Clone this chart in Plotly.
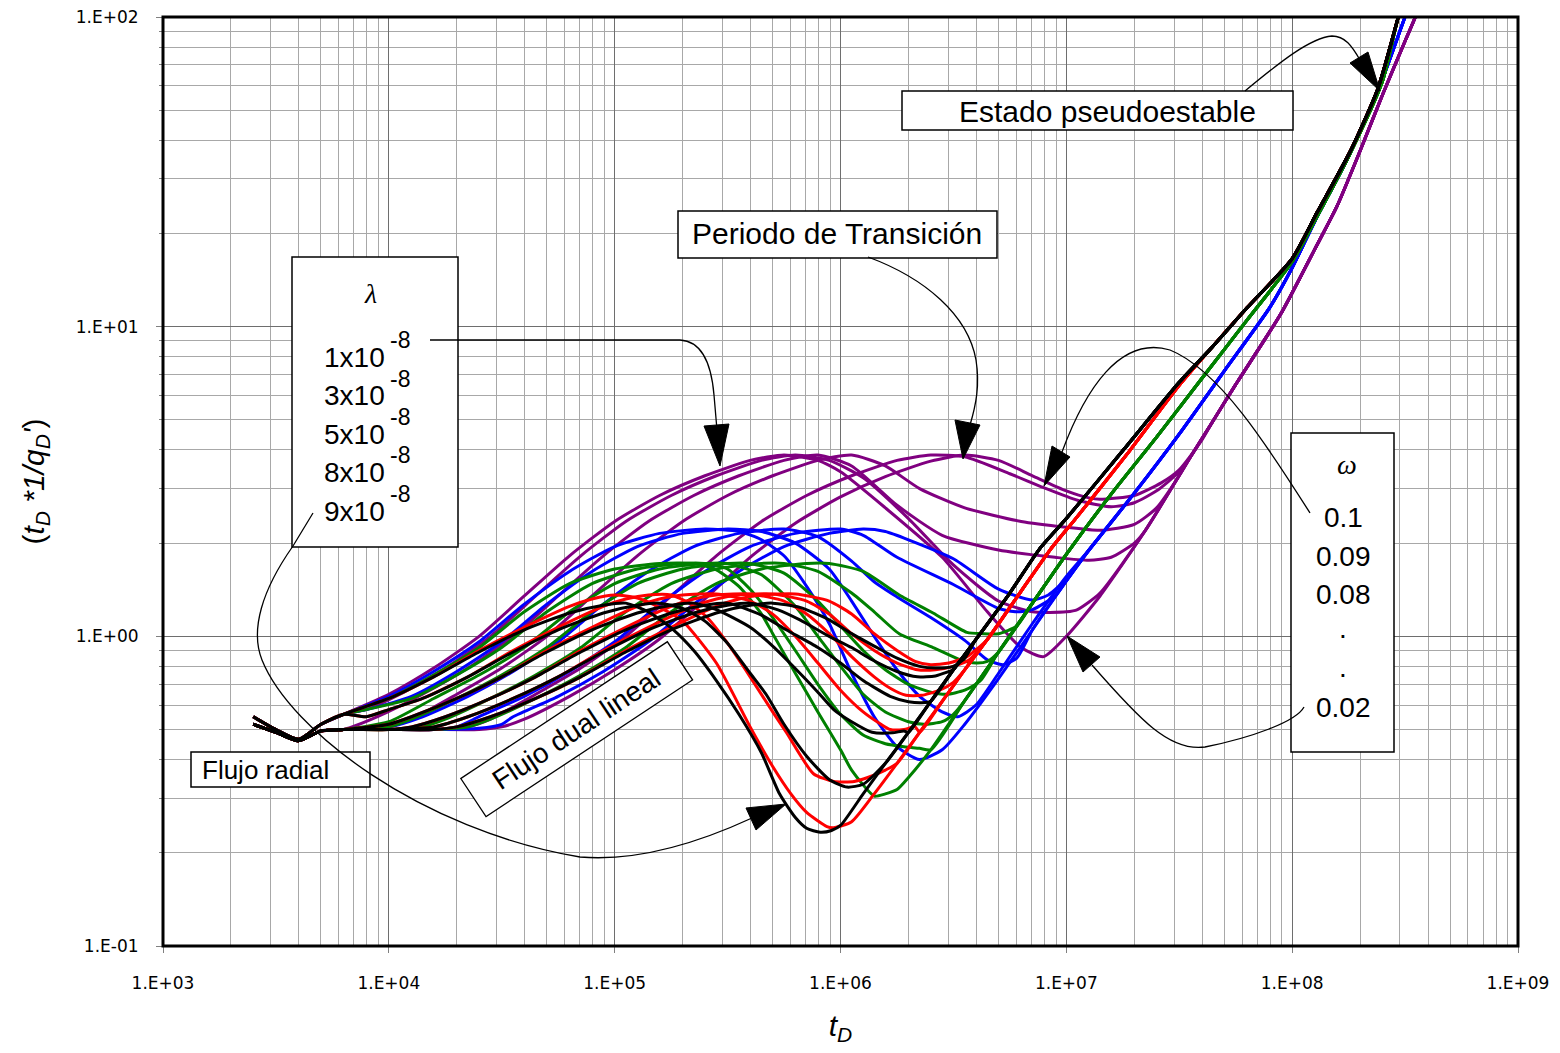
import plotly.graph_objects as go

# ---------------- axis ticks ----------------
x_tick_vals = [1e3, 1e4, 1e5, 1e6, 1e7, 1e8, 1e9]
x_tick_text = ["1.E+03", "1.E+04", "1.E+05", "1.E+06", "1.E+07", "1.E+08", "1.E+09"]
y_tick_vals = [0.1, 1, 10, 100]
y_tick_text = ["1.E-01", "1.E+00", "1.E+01", "1.E+02"]

# ---------------- shared radial-flow start ----------------
t_radial = [2.51e3, 3.16e3, 3.98e3, 5.01e3, 6.31e3]
v_radial_early = [0.55, 0.50, 0.465, 0.52, 0.56]
v_radial_late = [0.52, 0.49, 0.46, 0.495, 0.50]

# ---------------- PURPLE ----------------
purple_tail_t = [1.41e7, 2.24e7, 3.55e7, 4.47e7, 5.62e7, 8.91e7, 1.26e8, 1.58e8, 2.0e8, 2.51e8, 3.16e8, 3.55e8, 3.98e8]
purple_tail_v = [1.35, 2.2, 3.8, 4.97, 6.5, 11.0, 17.8, 24.5, 37, 56, 83.5, 102, 130]
purple_1_t = [1.0e4, 1.58e4, 2.51e4, 3.98e4, 6.31e4, 1.0e5, 1.58e5, 2.51e5, 3.98e5, 5.62e5, 7.94e5, 1.0e6, 1.58e6, 2.82e6, 4.47e6, 6.31e6, 7.94e6, 1.0e7]
purple_1_v = [0.65, 0.79, 1.0, 1.35, 1.82, 2.35, 2.85, 3.3, 3.7, 3.85, 3.7, 3.4, 2.6, 1.8, 1.2, 0.92, 0.86, 1.0]
purple_2_t = [7.94e3, 1.12e4, 1.78e4, 2.82e4, 4.47e4, 7.08e4, 1.12e5, 1.78e5, 2.82e5, 4.47e5, 6.31e5, 8.91e5, 1.26e6, 2.0e6, 3.16e6, 5.01e6, 7.08e6, 1.0e7, 1.12e7, 1.41e7]
purple_2_v = [0.58, 0.65, 0.79, 1.0, 1.35, 1.82, 2.35, 2.85, 3.3, 3.7, 3.85, 3.7, 3.25, 2.4, 1.7, 1.3, 1.2, 1.2, 1.22, 1.38]
purple_3_t = [8.91e3, 1.41e4, 2.24e4, 3.55e4, 5.62e4, 8.91e4, 1.41e5, 2.24e5, 3.55e5, 5.62e5, 7.94e5, 1.12e6, 1.78e6, 2.82e6, 5.01e6, 8.91e6, 1.26e7, 1.58e7, 2.0e7]
purple_3_v = [0.55, 0.65, 0.79, 1.0, 1.35, 1.82, 2.35, 2.85, 3.3, 3.7, 3.85, 3.55, 2.65, 2.12, 1.9, 1.8, 1.76, 1.8, 2.0]
purple_4_t = [1.0e4, 1.26e4, 2.0e4, 3.16e4, 5.01e4, 7.94e4, 1.26e5, 2.0e5, 3.16e5, 5.01e5, 7.94e5, 1.12e6, 1.58e6, 2.24e6, 3.55e6, 6.31e6, 1.0e7, 1.41e7, 2.0e7, 2.51e7, 3.16e7]
purple_4_v = [0.51, 0.54, 0.65, 0.79, 1.0, 1.35, 1.82, 2.35, 2.85, 3.3, 3.7, 3.85, 3.55, 3.0, 2.6, 2.35, 2.25, 2.2, 2.3, 2.6, 3.3]
purple_5_t = [1.0e4, 1.58e4, 2.24e4, 2.82e4, 4.47e4, 7.08e4, 1.12e5, 1.78e5, 2.82e5, 4.47e5, 7.08e5, 1.12e6, 1.78e6, 2.51e6, 3.55e6, 5.62e6, 7.94e6, 1.12e7, 1.58e7, 2.0e7, 2.51e7, 3.16e7]
purple_5_v = [0.5, 0.5, 0.51, 0.54, 0.65, 0.79, 1.0, 1.35, 1.82, 2.35, 2.85, 3.3, 3.7, 3.85, 3.8, 3.35, 3.02, 2.75, 2.62, 2.7, 2.95, 3.4]
purple_6_t = [1.0e4, 1.58e4, 2.51e4, 3.16e4, 3.98e4, 6.31e4, 1.0e5, 1.58e5, 2.51e5, 3.98e5, 6.31e5, 1.0e6, 1.58e6, 2.51e6, 3.55e6, 5.01e6, 7.08e6, 1.0e7, 1.26e7, 1.41e7, 2.0e7, 2.63e7, 3.16e7, 3.98e7]
purple_6_v = [0.5, 0.5, 0.5, 0.51, 0.54, 0.64, 0.78, 0.98, 1.32, 1.8, 2.32, 2.82, 3.28, 3.68, 3.85, 3.7, 3.3, 2.95, 2.8, 2.77, 2.85, 3.13, 3.45, 4.3]

# ---------------- BLUE ----------------
blue_tail_t = [3.55e6, 5.01e6, 7.08e6, 1.0e7, 1.26e7, 2.0e7, 3.16e7, 5.01e7, 7.94e7, 1.0e8, 1.26e8, 1.78e8, 2.51e8, 3.16e8, 3.55e8]
blue_tail_v = [0.52, 0.73, 1.05, 1.51, 1.9, 2.9, 4.5, 7.2, 11.5, 15.5, 21.9, 35.5, 63, 100, 125]
blue_1_t = [1.0e4, 1.58e4, 2.51e4, 3.98e4, 6.31e4, 1.0e5, 1.58e5, 2.51e5, 3.55e5, 4.47e5, 5.62e5, 7.08e5, 8.91e5, 1.12e6, 1.41e6, 1.78e6, 2.24e6, 2.82e6]
blue_1_v = [0.64, 0.77, 0.96, 1.27, 1.62, 1.95, 2.15, 2.22, 2.18, 2.05, 1.82, 1.45, 1.1, 0.76, 0.55, 0.44, 0.40, 0.43]
blue_2_t = [7.94e3, 1.26e4, 2.0e4, 3.16e4, 5.01e4, 7.94e4, 1.26e5, 2.0e5, 3.16e5, 4.47e5, 6.31e5, 8.91e5, 1.12e6, 1.41e6, 1.78e6, 2.24e6, 2.82e6, 3.31e6, 3.98e6, 5.01e6, 7.08e6, 1.0e7]
blue_2_v = [0.58, 0.64, 0.77, 0.96, 1.27, 1.62, 1.95, 2.15, 2.22, 2.18, 2.0, 1.65, 1.3, 1.0, 0.78, 0.64, 0.57, 0.55, 0.6, 0.76, 1.1, 1.56]
blue_3_t = [1.0e4, 1.41e4, 2.24e4, 3.55e4, 5.62e4, 8.91e4, 1.41e5, 2.24e5, 3.55e5, 5.62e5, 7.94e5, 1.12e6, 1.41e6, 1.78e6, 2.51e6, 3.55e6, 4.47e6, 5.25e6, 6.03e6]
blue_3_v = [0.51, 0.55, 0.64, 0.77, 0.96, 1.27, 1.62, 1.95, 2.15, 2.22, 2.1, 1.75, 1.5, 1.34, 1.15, 0.97, 0.84, 0.81, 0.85]
blue_4_t = [1.0e4, 1.58e4, 2.0e4, 2.51e4, 3.98e4, 6.31e4, 1.0e5, 1.58e5, 2.51e5, 3.98e5, 6.31e5, 1.0e6, 1.26e6, 1.78e6, 3.16e6, 5.01e6, 6.03e6, 7.08e6, 8.91e6]
blue_4_v = [0.5, 0.5, 0.51, 0.55, 0.64, 0.77, 0.96, 1.27, 1.62, 1.95, 2.15, 2.22, 2.12, 1.8, 1.47, 1.23, 1.2, 1.22, 1.35]
blue_5_t = [1.0e4, 1.58e4, 2.51e4, 3.16e4, 3.55e4, 5.62e4, 8.91e4, 1.41e5, 2.24e5, 3.55e5, 5.62e5, 8.91e5, 1.26e6, 1.58e6, 2.0e6, 3.16e6, 5.01e6, 7.08e6, 8.32e6, 1.0e7]
blue_5_v = [0.5, 0.5, 0.505, 0.52, 0.55, 0.64, 0.77, 0.96, 1.27, 1.62, 1.95, 2.15, 2.22, 2.18, 2.05, 1.78, 1.42, 1.31, 1.36, 1.53]

# ---------------- GREEN ----------------
green_tail_t = [1.78e6, 2.0e6, 2.51e6, 3.55e6, 5.01e6, 7.08e6, 1.0e7, 1.58e7, 2.51e7, 3.98e7, 6.31e7, 1.0e8, 1.26e8, 1.78e8, 2.51e8, 2.95e8, 3.31e8]
green_tail_v = [0.32, 0.35, 0.43, 0.62, 0.89, 1.28, 1.84, 2.88, 4.4, 6.8, 10.5, 16.2, 22, 35.5, 62, 100, 125]
green_1_t = [1.0e4, 1.58e4, 2.51e4, 3.98e4, 6.31e4, 1.0e5, 1.58e5, 2.24e5, 2.82e5, 3.55e5, 4.47e5, 5.01e5, 6.31e5, 7.94e5, 1.0e6, 1.12e6, 1.41e6, 1.58e6]
green_1_v = [0.63, 0.75, 0.92, 1.2, 1.48, 1.65, 1.72, 1.72, 1.64, 1.45, 1.18, 1.02, 0.76, 0.57, 0.43, 0.37, 0.305, 0.31]
green_2_t = [7.94e3, 1.26e4, 2.0e4, 3.16e4, 5.01e4, 7.94e4, 1.26e5, 2.0e5, 2.51e5, 3.16e5, 3.98e5, 5.01e5, 6.31e5, 7.94e5, 1.0e6, 1.26e6, 1.58e6, 1.91e6, 2.24e6]
green_2_v = [0.58, 0.63, 0.75, 0.92, 1.2, 1.48, 1.65, 1.72, 1.72, 1.65, 1.42, 1.15, 0.9, 0.7, 0.56, 0.48, 0.45, 0.44, 0.435]
green_3_t = [1.0e4, 1.58e4, 2.51e4, 3.98e4, 6.31e4, 1.0e5, 1.58e5, 2.51e5, 3.16e5, 4.47e5, 6.31e5, 7.94e5, 1.0e6, 1.26e6, 1.58e6, 2.0e6, 2.34e6, 2.82e6, 3.16e6]
green_3_v = [0.53, 0.63, 0.75, 0.92, 1.2, 1.48, 1.65, 1.72, 1.72, 1.58, 1.25, 1.0, 0.8, 0.65, 0.57, 0.53, 0.52, 0.53, 0.56]
green_4_t = [1.0e4, 1.26e4, 2.0e4, 3.16e4, 5.01e4, 7.94e4, 1.26e5, 2.0e5, 3.16e5, 3.98e5, 5.62e5, 7.94e5, 1.0e6, 1.26e6, 1.58e6, 2.0e6, 2.51e6, 2.95e6, 3.55e6, 4.17e6]
green_4_v = [0.51, 0.54, 0.63, 0.75, 0.92, 1.2, 1.48, 1.65, 1.72, 1.72, 1.6, 1.3, 1.08, 0.9, 0.78, 0.7, 0.66, 0.65, 0.67, 0.72]
green_5_t = [1.0e4, 1.41e4, 1.78e4, 2.82e4, 4.47e4, 7.08e4, 1.12e5, 1.78e5, 2.82e5, 4.47e5, 5.62e5, 7.94e5, 1.12e6, 1.41e6, 1.82e6, 2.57e6, 3.39e6, 3.98e6, 4.47e6]
green_5_v = [0.5, 0.51, 0.54, 0.63, 0.75, 0.92, 1.2, 1.48, 1.65, 1.72, 1.72, 1.62, 1.38, 1.2, 1.02, 0.92, 0.84, 0.82, 0.83]
green_6_t = [1.0e4, 1.58e4, 2.24e4, 2.82e4, 4.47e4, 7.08e4, 1.12e5, 1.78e5, 2.82e5, 4.47e5, 7.08e5, 8.91e5, 1.26e6, 1.82e6, 2.57e6, 3.63e6, 4.27e6, 5.01e6, 6.03e6]
green_6_v = [0.5, 0.5, 0.51, 0.54, 0.63, 0.75, 0.92, 1.2, 1.48, 1.65, 1.72, 1.72, 1.62, 1.36, 1.19, 1.03, 1.02, 1.02, 1.08]

# ---------------- RED ----------------
red_tail_t = [1.12e6, 1.41e6, 1.78e6, 2.24e6, 2.82e6, 3.55e6, 4.47e6, 6.31e6, 8.51e6, 1.10e7, 1.91e7, 3.16e7, 4.37e7, 6.31e7, 1.0e8, 1.29e8, 1.82e8, 2.40e8, 2.95e8, 3.16e8]
red_tail_v = [0.252, 0.31, 0.389, 0.49, 0.617, 0.78, 0.977, 1.4, 1.91, 2.4, 3.98, 6.46, 8.51, 11.5, 16.6, 23.4, 37.2, 58.9, 100, 120]
red_1_t = [1.0e4, 1.58e4, 2.51e4, 3.98e4, 6.31e4, 7.94e4, 1.0e5, 1.26e5, 1.58e5, 2.0e5, 2.82e5, 3.98e5, 5.01e5, 6.03e5, 7.08e5, 8.71e5, 9.33e5]
red_1_v = [0.63, 0.74, 0.9, 1.07, 1.25, 1.32, 1.36, 1.33, 1.24, 1.12, 0.82, 0.51, 0.38, 0.31, 0.27, 0.243, 0.241]
red_2_t = [7.94e3, 1.0e4, 1.41e4, 2.24e4, 3.55e4, 5.62e4, 8.91e4, 1.12e5, 1.41e5, 1.78e5, 2.14e5, 2.57e5, 3.16e5, 3.98e5, 5.01e5, 5.75e5, 7.59e5, 9.33e5, 1.15e6, 1.32e6, 1.58e6]
red_2_v = [0.55, 0.58, 0.63, 0.74, 0.9, 1.07, 1.25, 1.32, 1.36, 1.36, 1.28, 1.15, 0.95, 0.74, 0.57, 0.49, 0.36, 0.34, 0.34, 0.35, 0.37]
red_3_t = [1.0e4, 1.26e4, 2.0e4, 3.16e4, 5.01e4, 7.94e4, 1.26e5, 1.58e5, 2.0e5, 2.82e5, 3.98e5, 5.01e5, 6.31e5, 7.94e5, 1.0e6, 1.26e6, 1.51e6, 1.66e6, 1.91e6, 2.14e6]
red_3_v = [0.52, 0.55, 0.63, 0.74, 0.9, 1.07, 1.25, 1.32, 1.36, 1.37, 1.3, 1.18, 1.0, 0.82, 0.67, 0.57, 0.52, 0.5, 0.5, 0.51]
red_4_t = [1.0e4, 1.26e4, 1.78e4, 2.82e4, 4.47e4, 7.08e4, 1.12e5, 1.78e5, 2.24e5, 2.82e5, 3.98e5, 5.62e5, 7.08e5, 8.91e5, 1.12e6, 1.41e6, 1.66e6, 1.95e6, 2.29e6, 2.75e6, 3.16e6]
red_4_v = [0.5, 0.51, 0.55, 0.63, 0.74, 0.9, 1.07, 1.25, 1.32, 1.36, 1.37, 1.3, 1.18, 1.02, 0.86, 0.74, 0.68, 0.645, 0.645, 0.67, 0.71]
red_5_t = [1.0e4, 1.58e4, 2.24e4, 3.55e4, 5.62e4, 8.91e4, 1.41e5, 2.24e5, 2.82e5, 3.55e5, 5.01e5, 7.08e5, 8.91e5, 1.12e6, 1.41e6, 1.78e6, 2.19e6, 2.63e6, 3.16e6, 3.72e6]
red_5_v = [0.5, 0.51, 0.55, 0.63, 0.74, 0.9, 1.07, 1.25, 1.32, 1.36, 1.37, 1.3, 1.18, 1.02, 0.9, 0.82, 0.78, 0.78, 0.8, 0.84]
red_6_t = [1.0e4, 1.58e4, 2.0e4, 2.82e4, 4.47e4, 7.08e4, 1.12e5, 1.78e5, 2.82e5, 3.55e5, 4.47e5, 6.31e5, 8.91e5, 1.12e6, 1.41e6, 1.78e6, 2.14e6, 2.51e6, 3.02e6, 3.63e6]
red_6_v = [0.5, 0.5, 0.51, 0.55, 0.63, 0.74, 0.9, 1.07, 1.25, 1.32, 1.36, 1.37, 1.3, 1.18, 1.02, 0.9, 0.83, 0.81, 0.82, 0.86]

# ---------------- BLACK ----------------
black_tail_t = [1.0e6, 1.26e6, 1.58e6, 2.0e6, 2.51e6, 3.16e6, 3.98e6, 5.62e6, 7.59e6, 1.0e7, 1.78e7, 3.16e7, 4.37e7, 6.31e7, 1.0e8, 1.29e8, 1.82e8, 2.40e8, 2.95e8, 3.16e8]
black_tail_v = [0.245, 0.31, 0.389, 0.49, 0.617, 0.78, 0.977, 1.38, 1.91, 2.4, 3.98, 6.61, 8.51, 11.5, 16.6, 23.4, 37.2, 58.9, 100, 120]
black_1_t = [1.0e4, 1.58e4, 2.51e4, 3.98e4, 6.31e4, 8.91e4, 1.12e5, 1.41e5, 1.82e5, 2.24e5, 2.82e5, 3.55e5, 4.47e5, 5.37e5, 6.31e5, 7.08e5, 8.13e5, 9.12e5]
black_1_v = [0.63, 0.74, 0.89, 1.05, 1.19, 1.26, 1.28, 1.2, 1.05, 0.9, 0.72, 0.56, 0.42, 0.31, 0.26, 0.24, 0.233, 0.236]
black_2_t = [7.94e3, 1.0e4, 1.41e4, 2.24e4, 3.55e4, 5.62e4, 8.91e4, 1.26e5, 1.58e5, 2.0e5, 2.51e5, 3.16e5, 3.98e5, 4.68e5, 5.62e5, 7.08e5, 8.91e5, 1.07e6, 1.26e6]
black_2_v = [0.55, 0.58, 0.63, 0.74, 0.89, 1.05, 1.19, 1.26, 1.28, 1.23, 1.12, 0.95, 0.76, 0.65, 0.52, 0.41, 0.345, 0.326, 0.333]
black_3_t = [1.0e4, 1.26e4, 2.0e4, 3.16e4, 5.01e4, 7.94e4, 1.26e5, 1.78e5, 2.24e5, 2.82e5, 3.98e5, 5.01e5, 6.61e5, 7.94e5, 9.33e5, 1.12e6, 1.38e6, 1.70e6, 1.91e6]
black_3_v = [0.52, 0.55, 0.63, 0.74, 0.89, 1.05, 1.19, 1.26, 1.28, 1.22, 1.07, 0.93, 0.76, 0.66, 0.58, 0.53, 0.49, 0.488, 0.495]
black_4_t = [1.0e4, 1.26e4, 1.78e4, 2.82e4, 4.47e4, 7.08e4, 1.12e5, 1.78e5, 2.51e5, 3.16e5, 4.47e5, 5.75e5, 7.94e5, 1.0e6, 1.26e6, 1.66e6, 2.0e6, 2.29e6]
black_4_v = [0.5, 0.51, 0.55, 0.63, 0.74, 0.89, 1.05, 1.19, 1.26, 1.28, 1.17, 1.05, 0.92, 0.82, 0.72, 0.64, 0.615, 0.61]
black_5_t = [1.0e4, 1.58e4, 2.24e4, 3.55e4, 5.62e4, 8.91e4, 1.41e5, 2.24e5, 3.16e5, 3.98e5, 5.25e5, 6.61e5, 8.91e5, 1.12e6, 1.38e6, 1.78e6, 2.19e6, 2.63e6, 3.02e6]
black_5_v = [0.5, 0.51, 0.55, 0.63, 0.74, 0.89, 1.05, 1.19, 1.26, 1.28, 1.22, 1.13, 1.0, 0.92, 0.84, 0.77, 0.74, 0.745, 0.77]
black_6_t = [1.0e4, 1.58e4, 2.0e4, 2.82e4, 4.47e4, 7.08e4, 1.12e5, 1.78e5, 2.82e5, 3.98e5, 5.01e5, 6.61e5, 8.91e5, 1.12e6, 1.41e6, 1.78e6, 2.24e6, 2.63e6, 3.16e6, 3.55e6]
black_6_v = [0.5, 0.5, 0.51, 0.55, 0.63, 0.74, 0.89, 1.05, 1.19, 1.26, 1.28, 1.24, 1.13, 1.02, 0.93, 0.85, 0.8, 0.79, 0.8, 0.85]

# ---------------- annotation texts ----------------
lambda_labels = ["1x10", "3x10", "5x10", "8x10", "9x10"]
lambda_exp = "-8"
omega_labels = ["0.1", "0.09", "0.08", ".", ".", "0.02"]

series = [
    ("#800080", purple_tail_t, purple_tail_v, [
        (purple_1_t, purple_1_v, True), (purple_2_t, purple_2_v, True), (purple_3_t, purple_3_v, False),
        (purple_4_t, purple_4_v, False), (purple_5_t, purple_5_v, False), (purple_6_t, purple_6_v, False)]),
    ("#0000ff", blue_tail_t, blue_tail_v, [
        (blue_1_t, blue_1_v, True), (blue_2_t, blue_2_v, True), (blue_3_t, blue_3_v, False),
        (blue_4_t, blue_4_v, False), (blue_5_t, blue_5_v, False)]),
    ("#008000", green_tail_t, green_tail_v, [
        (green_1_t, green_1_v, True), (green_2_t, green_2_v, True), (green_3_t, green_3_v, False),
        (green_4_t, green_4_v, False), (green_5_t, green_5_v, False), (green_6_t, green_6_v, False)]),
    ("#ff0000", red_tail_t, red_tail_v, [
        (red_1_t, red_1_v, True), (red_2_t, red_2_v, True), (red_3_t, red_3_v, False),
        (red_4_t, red_4_v, False), (red_5_t, red_5_v, False), (red_6_t, red_6_v, False)]),
    ("#000000", black_tail_t, black_tail_v, [
        (black_1_t, black_1_v, True), (black_2_t, black_2_v, True), (black_3_t, black_3_v, False),
        (black_4_t, black_4_v, False), (black_5_t, black_5_v, False), (black_6_t, black_6_v, False)]),
]

fig = go.Figure()
for color, tail_t, tail_v, curves in series:
    for head_t, head_v, early in curves:
        t = list(t_radial) + list(head_t)
        v = list(v_radial_early if early else v_radial_late) + list(head_v)
        for a, b in zip(tail_t, tail_v):
            if a > head_t[-1] * 1.001:
                t.append(a)
                v.append(b)
        fig.add_trace(go.Scatter(x=t, y=v, mode="lines", hoverinfo="skip", showlegend=False,
                                 line=dict(color=color, width=3, shape="spline", smoothing=0.6)))

# ---------------- layout geometry (pixel helpers for decorations) ----------------
# page body has an 8px margin, so the figure is made 8px smaller and margins shifted
OFF = 8
PL, PR, PT, PB = 163, 1518, 17, 946
W, H = 1560 - OFF, 1053 - OFF


def px(x):
    return (x - PL) / (PR - PL)


def py(y):
    return (PB - y) / (PB - PT)


def path_px(cmds):
    out = []
    for c in cmds:
        if isinstance(c, str):
            out.append(c)
        else:
            out.append(f"{px(c[0]):.5f},{py(c[1]):.5f}")
    return " ".join(out)


shapes = []
# boxes
for (x0, y0, x1, y1) in [(292, 257, 458, 547), (1291, 433, 1394, 752), (678, 211, 997, 258),
                         (902, 91, 1293, 130), (191, 752, 370, 787)]:
    shapes.append(dict(type="rect", xref="paper", yref="paper", x0=px(x0), x1=px(x1), y0=py(y1), y1=py(y0),
                       line=dict(color="black", width=1.5), fillcolor="white", layer="above"))

# connector curves
curves_px = [
    ["M", (430, 340), "L", (680, 340), "C", (700, 341), (711, 360), (714, 395), "L", (717, 430)],
    ["M", (868, 257), "C", (925, 278), (968, 315), (976, 360), "C", (980, 385), (976, 405), (970, 425)],
    ["M", (313, 513), "L", (293, 546), "C", (262, 590), (250, 630), (262, 660), "C", (290, 730), (420, 830), (580, 857),
     "C", (640, 862), (700, 842), (752, 818)],
    ["M", (1245, 91), "C", (1280, 62), (1310, 38), (1332, 36), "C", (1345, 36), (1352, 46), (1360, 60)],
    ["M", (1310, 513), "C", (1270, 450), (1220, 370), (1170, 350), "C", (1120, 335), (1085, 390), (1062, 452)],
    ["M", (1304, 707), "C", (1296, 722), (1250, 738), (1205, 747), "C", (1170, 752), (1140, 720), (1092, 665)],
]
for c in curves_px:
    shapes.append(dict(type="path", xref="paper", yref="paper", path=path_px(c),
                       line=dict(color="black", width=1.3), layer="above"))

heads_px = [
    [(704, 426), (729, 424), (720, 466)],
    [(955, 420), (980, 425), (963, 459)],
    [(746, 808), (756, 830), (786, 804)],
    [(1350, 63), (1368, 52), (1380, 91)],
    [(1052, 446), (1070, 457), (1044, 486)],
    [(1083, 672), (1100, 657), (1067, 636)],
]
for h in heads_px:
    shapes.append(dict(type="path", xref="paper", yref="paper",
                       path=path_px(["M", h[0], "L", h[1], "L", h[2], "Z"]),
                       fillcolor="black", line=dict(color="black", width=1), layer="above"))

# plot frame
shapes.append(dict(type="rect", xref="paper", yref="paper", x0=0, x1=1, y0=0, y1=1,
                   line=dict(color="black", width=3), layer="above"))

SANS = "Liberation Sans, Arial, sans-serif"
SERIF = "Liberation Serif, Times New Roman, serif"
TICKF = "DejaVu Sans, Verdana, sans-serif"
ann = []


def add_text(text, x, y, size, xanchor="center", family=SANS, **kw):
    ann.append(dict(text=text, x=px(x), y=py(y), xref="paper", yref="paper", showarrow=False,
                    xanchor=xanchor, yanchor="middle", font=dict(family=family, size=size, color="black"), **kw))


add_text("<i>λ</i>", 370, 293, 28, family=SERIF)
for i, lab in enumerate(lambda_labels):
    add_text(lab, 322, 357 + i * 38.5, 28, xanchor="left")
    add_text(lambda_exp, 388, 340 + i * 38.5, 23, xanchor="left")

add_text("<i>ω</i>", 1347, 464, 28, family=SERIF)
omega_y = [517, 556, 594, 628, 667, 707]
for lab, yy in zip(omega_labels, omega_y):
    add_text(lab, 1343, yy, 28)

add_text("Periodo de Transición", 837, 234, 30)
add_text("Estado pseudoestable", 1107, 111, 30)
add_text("Flujo radial", 265, 770, 26)
ann.append(dict(text="Flujo dual lineal", x=px(576), y=py(729), xref="paper", yref="paper", showarrow=False,
                xanchor="center", yanchor="middle", textangle=-33.5, width=246, height=44,
                bordercolor="black", borderwidth=1.3, borderpad=0, bgcolor="white",
                font=dict(family=SANS, size=28, color="black")))

minor_x = [m * 10 ** e for e in range(3, 9) for m in range(2, 10)]
minor_y = [m * 10 ** e for e in range(-1, 2) for m in range(2, 10)]

fig.update_layout(
    width=W, height=H,
    margin=dict(l=PL - OFF, r=1560 - PR, t=PT - OFF, b=1053 - PB, autoexpand=False),
    paper_bgcolor="white", plot_bgcolor="white",
    showlegend=False,
    shapes=shapes, annotations=ann,
    xaxis=dict(type="log", range=[3, 9], tickmode="array", tickvals=x_tick_vals, ticktext=x_tick_text,
               showgrid=True, gridcolor="#6e6e6e", gridwidth=1, zeroline=False, showline=False,
               ticks="outside", ticklen=6, tickcolor="#808080", ticklabelstandoff=16,
               ticklabeloverflow="allow",
               tickfont=dict(family=TICKF, size=17, color="black"),
               minor=dict(tickmode="array", tickvals=minor_x, showgrid=True, gridcolor="#a8a8a8", gridwidth=1,
                          ticks=""),
               title=dict(text="<i>t</i><sub><i>D</i></sub>", font=dict(family=SANS, size=30, color="black"),
                          standoff=22)),
    yaxis=dict(type="log", range=[-1, 2], tickmode="array", tickvals=y_tick_vals, ticktext=y_tick_text,
               showgrid=True, gridcolor="#6e6e6e", gridwidth=1, zeroline=False, showline=False,
               ticks="outside", ticklen=6, tickcolor="#808080", ticklabelstandoff=14,
               ticklabeloverflow="allow",
               tickfont=dict(family=TICKF, size=17, color="black"),
               minor=dict(tickmode="array", tickvals=minor_y, showgrid=True, gridcolor="#a8a8a8", gridwidth=1,
                          ticks="outside", ticklen=3, tickcolor="#808080"),
               title=dict(text="(<i>t</i><sub><i>D</i></sub><i> *1/q</i><sub><i>D</i></sub><i>'</i>)",
                          font=dict(family=SANS, size=30, color="black"), standoff=22)),
)

fig.write_html("out.html")
